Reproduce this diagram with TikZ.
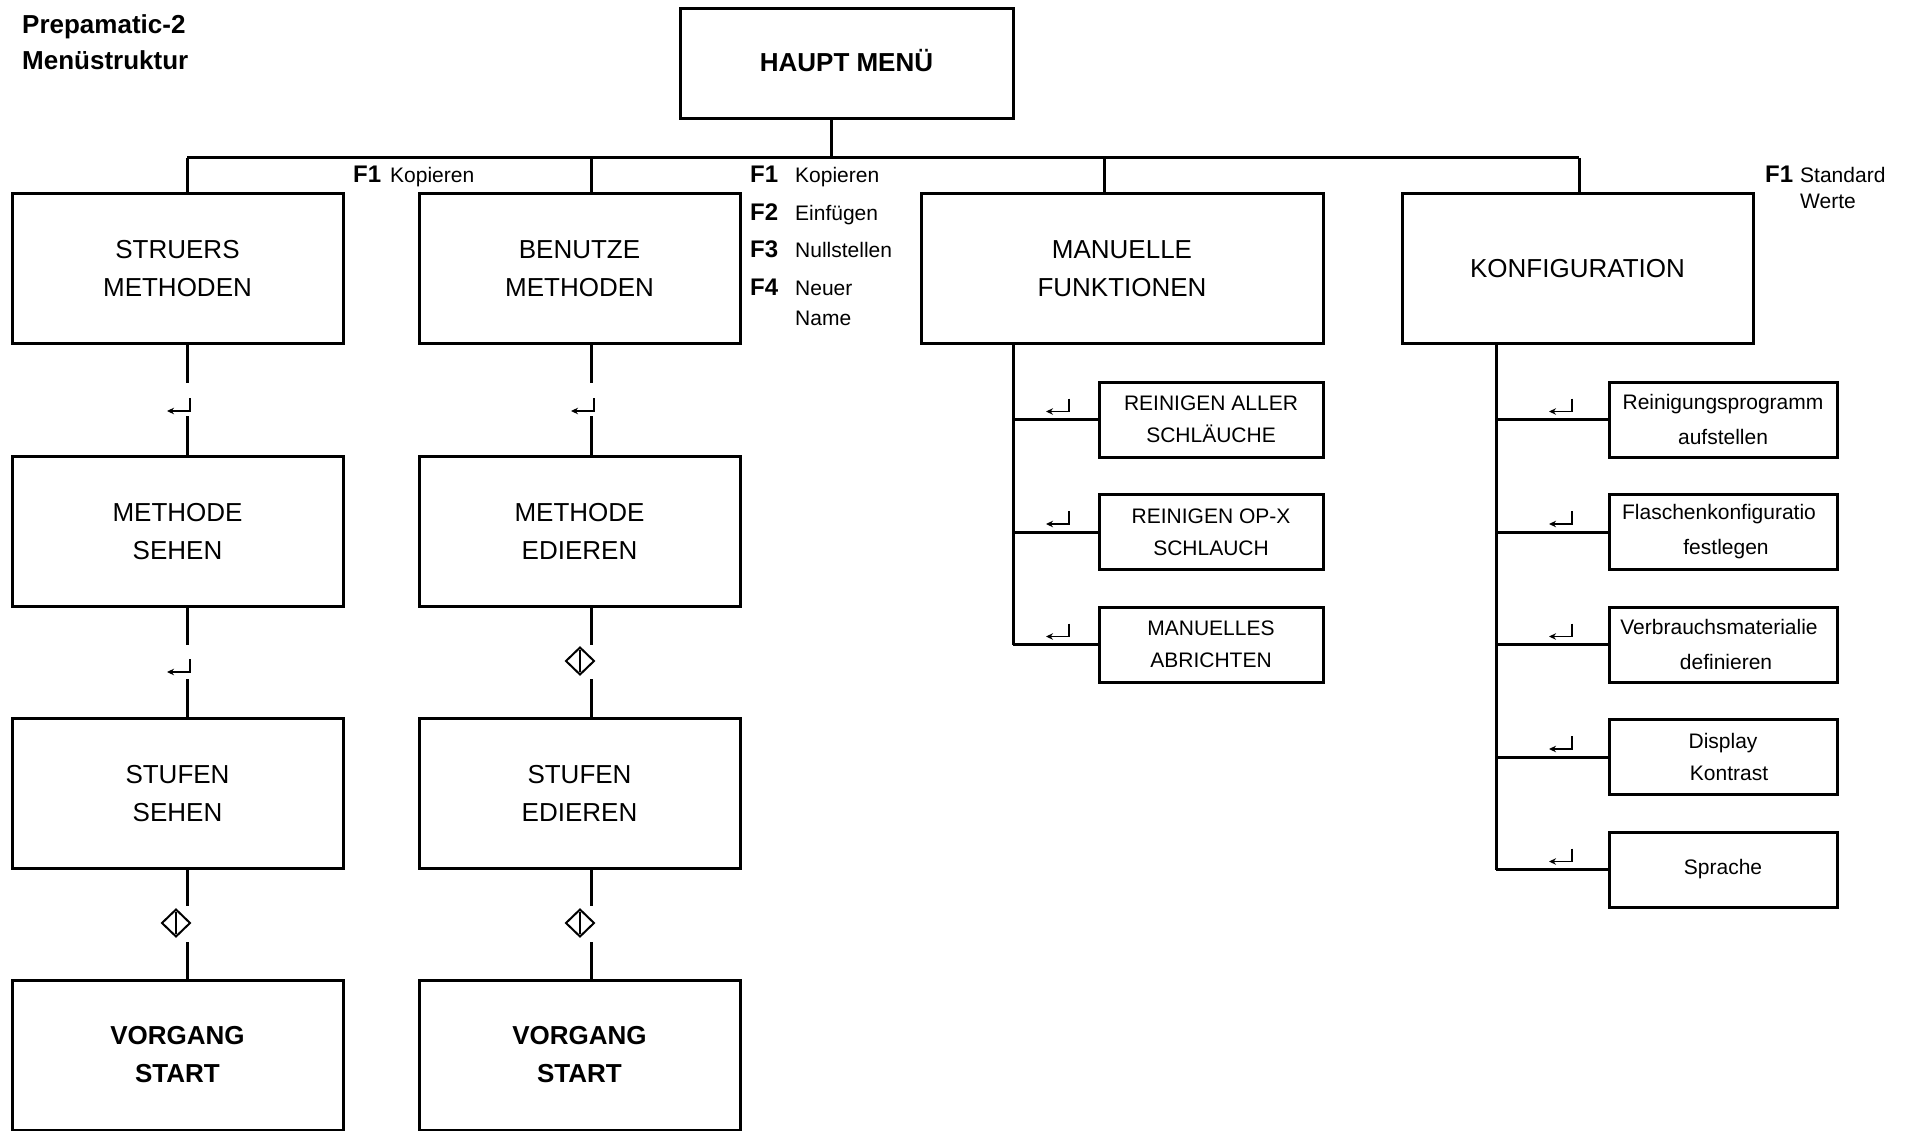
\documentclass[tikz,border=0pt]{standalone}
\usepackage{fontspec}
\setmainfont{Liberation Sans}
\usetikzlibrary{arrows.meta}
\begin{document}
\begin{tikzpicture}[x=1pt,y=-1pt,
  bigbox/.style={draw,line width=3pt,rectangle,inner sep=0pt,align=center,
    minimum height=150pt,font=\fontsize{26}{38}\selectfont},
  subbox/.style={draw,line width=3pt,rectangle,inner sep=0pt,align=center,
    minimum height=75pt,font=\fontsize{21}{32}\selectfont},
  cfgbox/.style={subbox,minimum width=228pt,font=\fontsize{21}{35}\selectfont},
  link/.style={line width=3pt},
  fkey/.style={inner sep=0pt,anchor=base west,font=\fontsize{24}{30}\selectfont\bfseries},
  ftext/.style={inner sep=0pt,anchor=base west,font=\fontsize{21}{30}\selectfont},
  titletext/.style={inner sep=0pt,anchor=base west,font=\fontsize{26}{36}\selectfont\bfseries},
  enterkey/.pic={\draw[line width=1.7pt,-{Stealth[length=7pt,width=6.5pt]}]
    (0,-13) -- (0,0) -- (-23,0);},
  startkey/.pic={\draw[line width=2pt,line join=miter] (0,-13.5) -- (14,0) -- (0,13.5) -- (-14,0) -- cycle;
    \draw[line width=2pt] (0,-11) -- (0,11);}
]
\useasboundingbox (0,0) rectangle (1908,1131);

% title
\node[titletext] (title1) at (22,34) {Prepamatic-2};
\node[titletext] (title2) at (22,70) {Menüstruktur};

% main menu
\node[bigbox,minimum width=333pt,minimum height=110pt,font=\fontsize{26}{38}\selectfont\bfseries]
  (haupt) at (846.5,64) {\raisebox{8pt}{HAUPT MENÜ}};

% first level
\node[bigbox,minimum width=331pt] (sm) at (177.5,269) {STRUERS\\METHODEN};
\node[bigbox,minimum width=321pt] (bm) at (579.5,269) {BENUTZE\\METHODEN};
\node[bigbox,minimum width=402pt] (mf) at (1122,269) {MANUELLE\\FUNKTIONEN};
\node[bigbox,minimum width=351pt] (kf) at (1577.5,269) {KONFIGURATION};

% left column
\node[bigbox,minimum width=331pt] (ms) at (177.5,531.5) {METHODE\\SEHEN};
\node[bigbox,minimum width=331pt] (ss) at (177.5,793.5) {STUFEN\\SEHEN};
\node[bigbox,minimum width=331pt,font=\fontsize{26}{38}\selectfont\bfseries] (vs1) at (177.5,1055) {VORGANG\\START};

% second column
\node[bigbox,minimum width=321pt] (me) at (579.5,531.5) {METHODE\\EDIEREN};
\node[bigbox,minimum width=321pt] (se) at (579.5,793.5) {STUFEN\\EDIEREN};
\node[bigbox,minimum width=321pt,font=\fontsize{26}{38}\selectfont\bfseries] (vs2) at (579.5,1055) {VORGANG\\START};

% manual functions
\node[subbox,minimum width=224pt] (r1) at (1211,419.5) {REINIGEN ALLER\\SCHLÄUCHE};
\node[subbox,minimum width=224pt] (r2) at (1211,532) {REINIGEN OP-X\\SCHLAUCH};
\node[subbox,minimum width=224pt] (r3) at (1211,644.5) {MANUELLES\\ABRICHTEN};

% configuration
\node[cfgbox] (k1) at (1723,419.5) {Reinigungsprogramm\\aufstellen};
\node[cfgbox] (k2) at (1723,532) {\hspace*{-8pt}Flaschenkonfiguratio\\\hspace*{6pt}festlegen};
\node[cfgbox] (k3) at (1723,644.5) {\hspace*{-8pt}Verbrauchsmaterialie\\\hspace*{6pt}definieren};
\node[cfgbox,font=\fontsize{21}{32}\selectfont] (k4) at (1723,757) {Display\\\hspace*{12pt}Kontrast};
\node[cfgbox] (k5) at (1723,869.5) {Sprache};

% function key notes
\node[fkey] (fa1) at (353,183) {F1};
\node[ftext] (ta1) at (390,183) {Kopieren};

\node[fkey] (fb1) at (750,183) {F1};
\node[ftext] (tb1) at (795,183) {Kopieren};
\node[fkey] (fb2) at (750,220.5) {F2};
\node[ftext] (tb2) at (795,220.5) {Einfügen};
\node[fkey] (fb3) at (750,258) {F3};
\node[ftext] (tb3) at (795,258) {Nullstellen};
\node[fkey] (fb4) at (750,295.5) {F4};
\node[ftext] (tb4) at (795,295.5) {Neuer};
\node[ftext] (tb5) at (795,326) {Name};

\node[fkey] (fc1) at (1765,183) {F1};
\node[ftext] (tc1) at (1800,183) {Standard};
\node[ftext] (tc2) at (1800,209) {Werte};

% distribution bus
\coordinate (d1) at (187,158);
\coordinate (d2) at (591,158);
\coordinate (d3) at (1104,158);
\coordinate (d4) at (1579,158);
\coordinate (hub) at (831,158);
\draw[link] (haupt.south -| hub) -- (hub);
\draw[link] (d1) -- (d4);
\draw[link] (d1) -- (d1 |- sm.north);
\draw[link] (d2) -- (d2 |- bm.north);
\draw[link] (d3) -- (d3 |- mf.north);
\draw[link] (d4) -- (d4 |- kf.north);

% left column links
\draw[link] (sm.south -| d1) -- ++(0,37);
\pic at (190,411) {enterkey};
\draw[link] (ms.north -| d1) -- ++(0,-39);
\draw[link] (ms.south -| d1) -- ++(0,37);
\pic at (190,672) {enterkey};
\draw[link] (ss.north -| d1) -- ++(0,-38);
\draw[link] (ss.south -| d1) -- ++(0,36);
\pic at (176,923) {startkey};
\draw[link] (vs1.north -| d1) -- ++(0,-37);

% second column links
\draw[link] (bm.south -| d2) -- ++(0,37);
\pic at (594,411) {enterkey};
\draw[link] (me.north -| d2) -- ++(0,-39);
\draw[link] (me.south -| d2) -- ++(0,37);
\pic at (580,661) {startkey};
\draw[link] (se.north -| d2) -- ++(0,-38);
\draw[link] (se.south -| d2) -- ++(0,36);
\pic at (580,923) {startkey};
\draw[link] (vs2.north -| d2) -- ++(0,-37);

% manual functions branch
\coordinate (mx) at (1013,344);
\draw[link] (mf.south -| mx) -- (mx |- r3.west);
\foreach \n in {r1,r2,r3} {
  \draw[link] (mx |- \n.west) -- (\n.west);
}
\pic at (1069,411.5) {enterkey};
\pic at (1069,524) {enterkey};
\pic at (1069,636.5) {enterkey};

% configuration branch
\coordinate (kx) at (1496,344);
\draw[link] (kf.south -| kx) -- (kx |- k5.west);
\foreach \n in {k1,k2,k3,k4,k5} {
  \draw[link] (kx |- \n.west) -- (\n.west);
}
\pic at (1572,411.5) {enterkey};
\pic at (1572,524) {enterkey};
\pic at (1572,636.5) {enterkey};
\pic at (1572,749) {enterkey};
\pic at (1572,861.5) {enterkey};
\end{tikzpicture}
\end{document}
